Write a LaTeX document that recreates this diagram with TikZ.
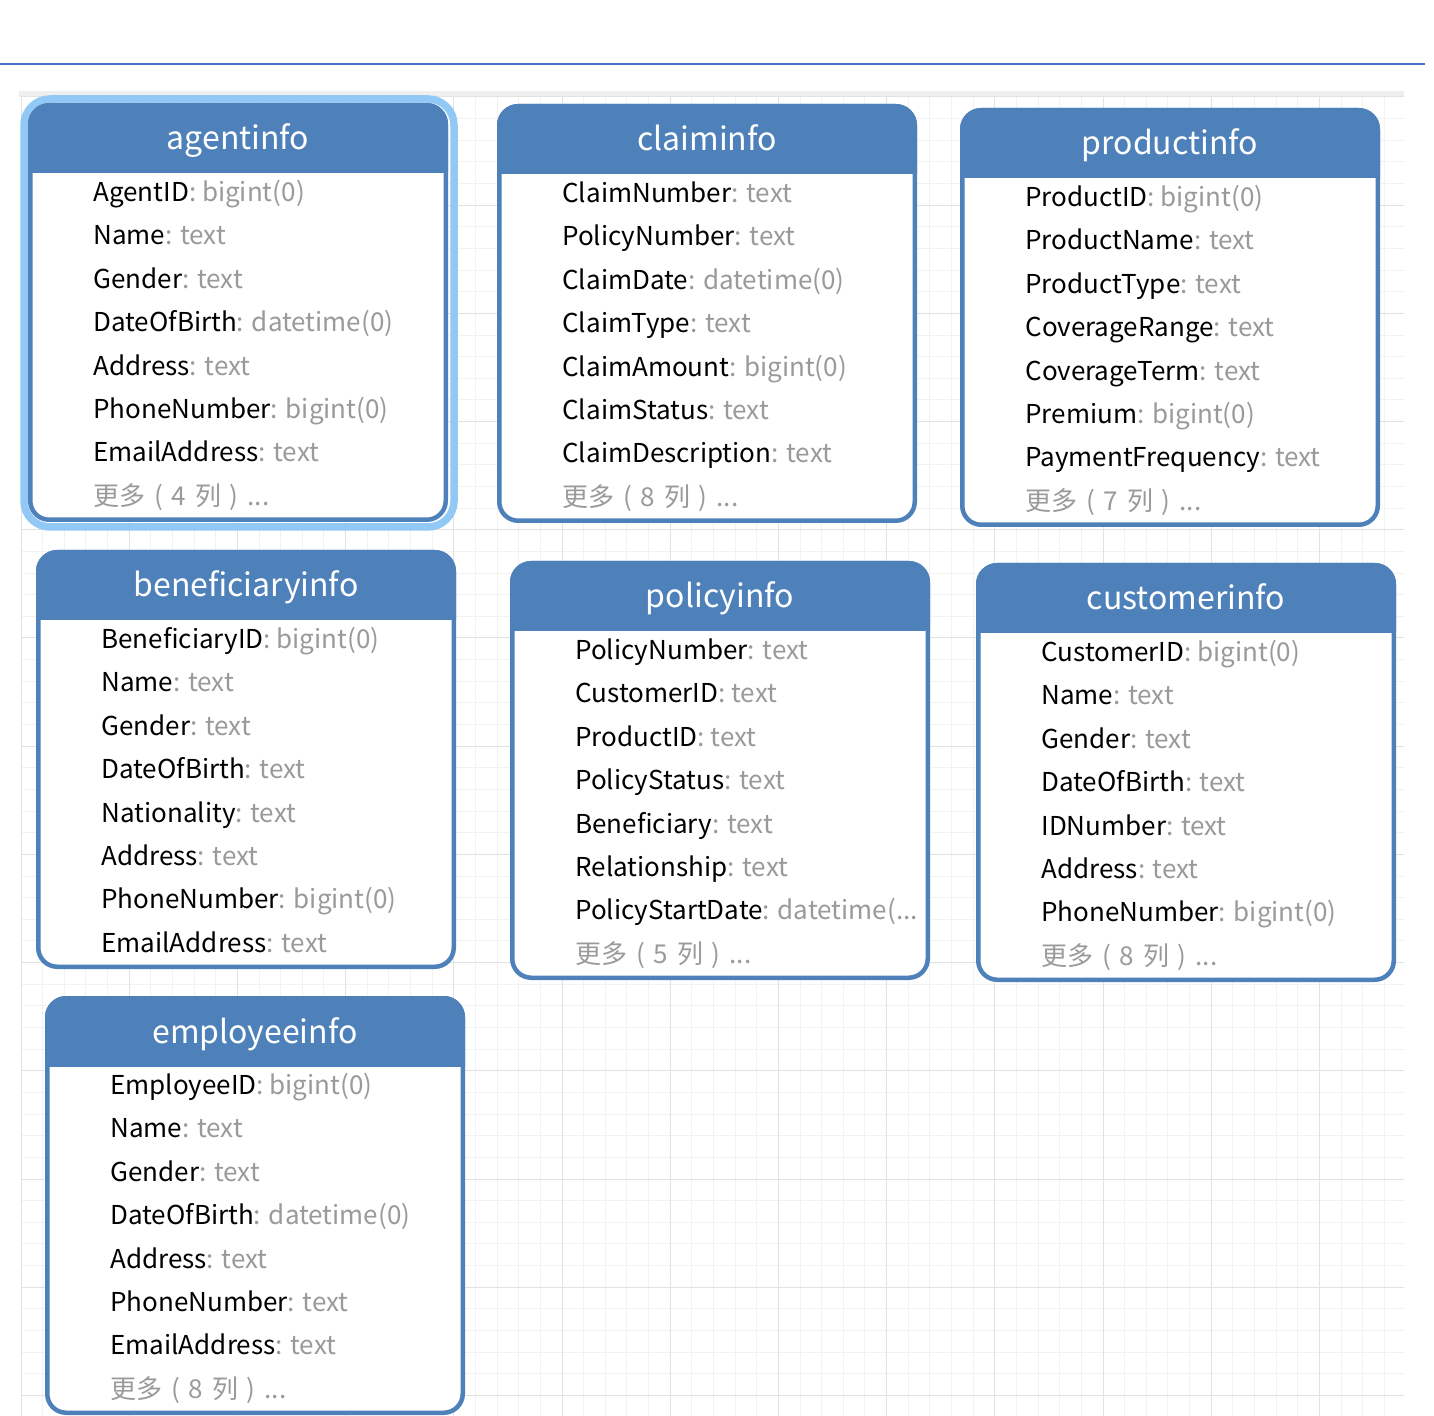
\documentclass[tikz,border=0pt]{standalone}
\usepackage{fontspec}
\setmainfont{Noto Sans CJK SC}
\definecolor{hdr}{HTML}{4E81BA}
\definecolor{halo}{HTML}{92C8F5}
\definecolor{typegray}{HTML}{9A9A9A}
\definecolor{gridminor}{HTML}{F2F2F2}
\definecolor{gridmajor}{HTML}{E2E2E2}
\definecolor{topline}{HTML}{4472C4}
\definecolor{band}{HTML}{EFEFEF}
\newcommand\tdots{...}
\newcommand\gs{\hspace{0.34em}}
\newcommand\moremsg[1]{更多\gs{}(\gs{}#1\gs{}列\gs{})\gs{}...}
\tikzset{
  titletext/.style={text=white, anchor=base, inner sep=0pt, font=\fontsize{16pt}{19pt}\selectfont},
  rowtext/.style={text=black, anchor=base west, inner sep=0pt, font=\fontsize{13pt}{15pt}\selectfont},
  moretext/.style={text=typegray, anchor=base west, inner sep=0pt, font=\fontsize{13pt}{15pt}\selectfont},
  boxline/.style={draw=hdr, line width=2.25pt, rounded corners=9.5pt},
}
\newcommand\erTable[6]{%
  \begin{scope}[shift={(#2,#3)}]
    \fill[white, rounded corners=10.5pt] (0,0) rectangle (420,419);
    \begin{scope}
      \clip (0,0) rectangle (420,70);
      \fill[hdr, rounded corners=10.5pt] (0,0) rectangle (420,419);
    \end{scope}
    \path[boxline] (2.25,2.25) rectangle (417.75,416.75);
    \node[titletext] (#1-title) at (210,47) {#4};
    \foreach \fn/\ft [count=\k] in {#5} {
      \node[rowtext] (#1-row\k) at (65, {98.5+43.4*(\k-1)}) {\fn\textcolor{typegray}{: \ft}};
    }
    \if\relax\detokenize{#6}\relax\else
      \node[moretext] (#1-more) at (65, {98.5+43.4*7}) {\moremsg{#6}};
    \fi
  \end{scope}}
\begin{document}
\begin{tikzpicture}[x=0.5pt, y=-0.5pt]
  \useasboundingbox (0,0) rectangle (1434,1416);
  % top rule
  \draw[topline, line width=1pt] (0,64) -- (1425,64);
  % canvas band
  \fill[band] (19,91) rectangle (1404,97);
  % grid
  \foreach \i in {0,...,63} {
    \draw[gridminor, line width=0.5pt] ({21+21.64*\i},97) -- ({21+21.64*\i},1416);
  }
  \foreach \i in {0,...,60} {
    \draw[gridminor, line width=0.5pt] (21,{97+21.64*\i}) -- (1404,{97+21.64*\i});
  }
  \foreach \i in {0,5,...,60} {
    \draw[gridmajor, line width=0.5pt] ({21+21.64*\i},97) -- ({21+21.64*\i},1416);
  }
  \foreach \i in {0,5,...,60} {
    \draw[gridmajor, line width=0.5pt] (21,{97+21.64*\i}) -- (1404,{97+21.64*\i});
  }
  % selection halo on agentinfo
  \draw[halo, line width=3.75pt, rounded corners=13pt] (24,99) rectangle (454,527);
  \erTable{agentinfo}{28}{103}{agentinfo}{AgentID/bigint(0), Name/text, Gender/text, DateOfBirth/datetime(0), Address/text, PhoneNumber/bigint(0), EmailAddress/text}{4}
  \erTable{claiminfo}{497}{104}{claiminfo}{ClaimNumber/text, PolicyNumber/text, ClaimDate/datetime(0), ClaimType/text, ClaimAmount/bigint(0), ClaimStatus/text, ClaimDescription/text}{8}
  \erTable{productinfo}{960}{108}{productinfo}{ProductID/bigint(0), ProductName/text, ProductType/text, CoverageRange/text, CoverageTerm/text, Premium/bigint(0), PaymentFrequency/text}{7}
  \erTable{beneficiaryinfo}{36}{550}{beneficiaryinfo}{BeneficiaryID/bigint(0), Name/text, Gender/text, DateOfBirth/text, Nationality/text, Address/text, PhoneNumber/bigint(0), EmailAddress/text}{}
  \erTable{policyinfo}{510}{561}{policyinfo}{PolicyNumber/text, CustomerID/text, ProductID/text, PolicyStatus/text, Beneficiary/text, Relationship/text, PolicyStartDate/datetime(\tdots}{5}
  \erTable{customerinfo}{976}{563}{customerinfo}{CustomerID/bigint(0), Name/text, Gender/text, DateOfBirth/text, IDNumber/text, Address/text, PhoneNumber/bigint(0)}{8}
  \erTable{employeeinfo}{45}{996}{employeeinfo}{EmployeeID/bigint(0), Name/text, Gender/text, DateOfBirth/datetime(0), Address/text, PhoneNumber/text, EmailAddress/text}{8}
\end{tikzpicture}
\end{document}
